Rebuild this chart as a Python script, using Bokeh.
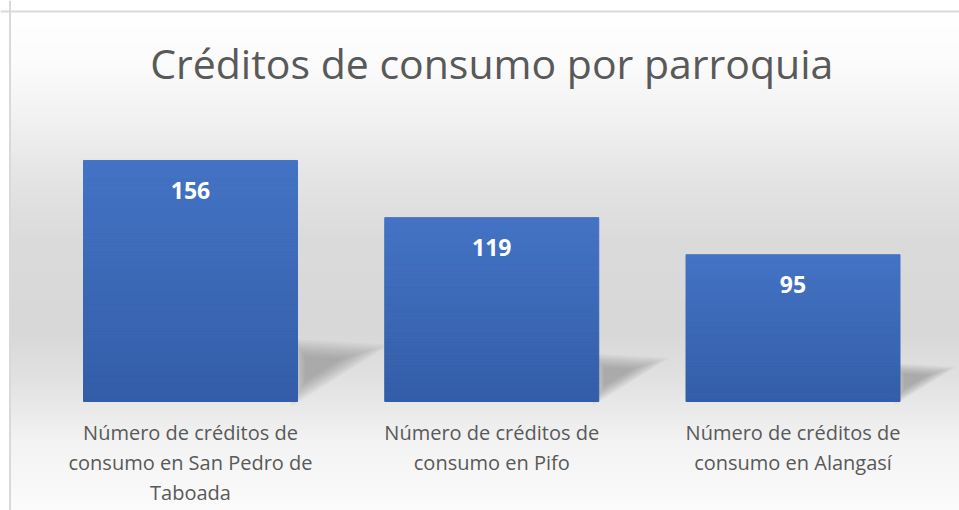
import numpy as np
from bokeh.plotting import figure
from bokeh.models import ColumnDataSource, Span
from bokeh.core.properties import value
from bokeh.embed import file_html
from bokeh.resources import INLINE

# ---------------- data ----------------
title_text = "Créditos de consumo por parroquia"
categories = [
    "Número de créditos de consumo en San Pedro de Taboada",
    "Número de créditos de consumo en Pifo",
    "Número de créditos de consumo en Alangasí",
]
category_lines = [
    ["Número de créditos de", "consumo en San Pedro de", "Taboada"],
    ["Número de créditos de", "consumo en Pifo"],
    ["Número de créditos de", "consumo en Alangasí"],
]
counts = [156, 119, 95]

# ---------------- layout (pixels) ----------------
W, H = 959, 510
PX_PER_CAT = 301.25        # distance between category centres
CENTER0_PX = 190.0         # x of first category centre in figure px
BASE_PX = 401.0            # y of baseline (value 0) from figure top
PX_PER_UNIT = 1.545        # pixels per count

x_start = -CENTER0_PX / PX_PER_CAT
x_end = (W - CENTER0_PX) / PX_PER_CAT
y_end = BASE_PX / PX_PER_UNIT
y_start = -(H - BASE_PX) / PX_PER_UNIT

def ydata(px_from_top):
    return (BASE_PX - px_from_top) / PX_PER_UNIT

def xdata(px_from_left):
    return (px_from_left - CENTER0_PX) / PX_PER_CAT

p = figure(width=W, height=H, output_backend="svg", toolbar_location=None,
           x_range=(x_start, x_end), y_range=(y_start, y_end),
           min_border=0, min_border_left=0, min_border_right=0,
           min_border_top=0, min_border_bottom=0)
p.axis.visible = False
p.grid.visible = False
p.outline_line_color = None
p.background_fill_color = "white"
p.border_fill_color = "white"

# ---------------- background gradient ----------------
top_px = 11.0
left_px = 9.5
stops_px = [top_px, 60, 110, 180, 240, 330, 375, 440, 510]
stops_val = [255, 252, 243, 228, 219, 216, 225, 243, 252]
rows = np.arange(int(top_px), H)
grey = np.interp(rows, stops_px, stops_val).astype(np.uint32)
grey = grey[::-1]  # image rows go bottom -> top
img = (255 << 24) | (grey << 16) | (grey << 8) | grey
img = img.reshape(-1, 1).astype(np.uint32)
p.image_rgba(image=[img], x=xdata(left_px), y=ydata(H), dw=x_end - xdata(left_px),
             dh=ydata(top_px) - ydata(H))

# border (left and top only)
p.add_layout(Span(location=ydata(top_px), dimension="width",
                  line_color="#d9d9d9", line_width=2))
p.add_layout(Span(location=xdata(left_px), dimension="height",
                  line_color="#d9d9d9", line_width=2))

# ---------------- shadows (soft, layered) ----------------
bar_w = 214.0 / PX_PER_CAT
xs_cat = list(range(len(counts)))
shadow_layers = 12
for i, v in enumerate(counts):
    xr = xs_cat[i] + bar_w / 2
    h = 0.24 * v
    L = 0.33 * v * PX_PER_UNIT / PX_PER_CAT
    cx, cy = xr + L * 0.2, h * 0.6
    base = [(xr - 0.01, h * 0.02), (xr - 0.01, h), (xr + L, h * 0.92)]
    for k in range(shadow_layers):
        s = 1.2 - k * 0.07
        px_ = [cx + (a - cx) * s for a, b in base]
        py_ = [cy + (b - cy) * s for a, b in base]
        p.patch(px_, py_, fill_color="#777777", fill_alpha=0.05, line_color=None)

# ---------------- bars with vertical gradient ----------------
n_slices = 40
top_col = np.array([0x44, 0x73, 0xc5])
bot_col = np.array([0x33, 0x5d, 0xa7])
sx, sb, st, sc = [], [], [], []
for i, v in enumerate(counts):
    for k in range(n_slices):
        f0, f1 = k / n_slices, (k + 1) / n_slices
        c = bot_col + (top_col - bot_col) * (f0 + f1) / 2
        sx.append(xs_cat[i]); sb.append(v * f0); st.append(v * f1)
        sc.append("#%02x%02x%02x" % tuple(int(round(t)) for t in c))
p.vbar(x="x", bottom="b", top="t", width=bar_w, color="c",
       source=ColumnDataSource(dict(x=sx, b=sb, t=st, c=sc)))

# value labels
p.text(x=xs_cat, y=counts, text=[str(v) for v in counts], y_offset=30,
       text_align="center", text_baseline="middle", text_color="white",
       text_font=value("Open Sans"), text_font_style="bold",
       text_font_size="23px")

# category labels
lx, ly, lt, lo = [], [], [], []
for i, lines in enumerate(category_lines):
    for k, line in enumerate(lines):
        lx.append(xs_cat[i]); ly.append(0); lt.append(line); lo.append(31 + 30 * k)
p.text(x="x", y="y", text="t", y_offset="o",
       source=ColumnDataSource(dict(x=lx, y=ly, t=lt, o=lo)),
       text_align="center", text_baseline="middle", text_color="#595959",
       text_font=value("Open Sans"), text_font_size="20px")

# title
p.text(x=[1.0], y=[ydata(62)], text=[title_text], text_align="center",
       text_baseline="middle", text_color="#595959",
       text_font=value("Open Sans"), text_font_size="41px")

open("out.html", "w").write(file_html(p, INLINE))
